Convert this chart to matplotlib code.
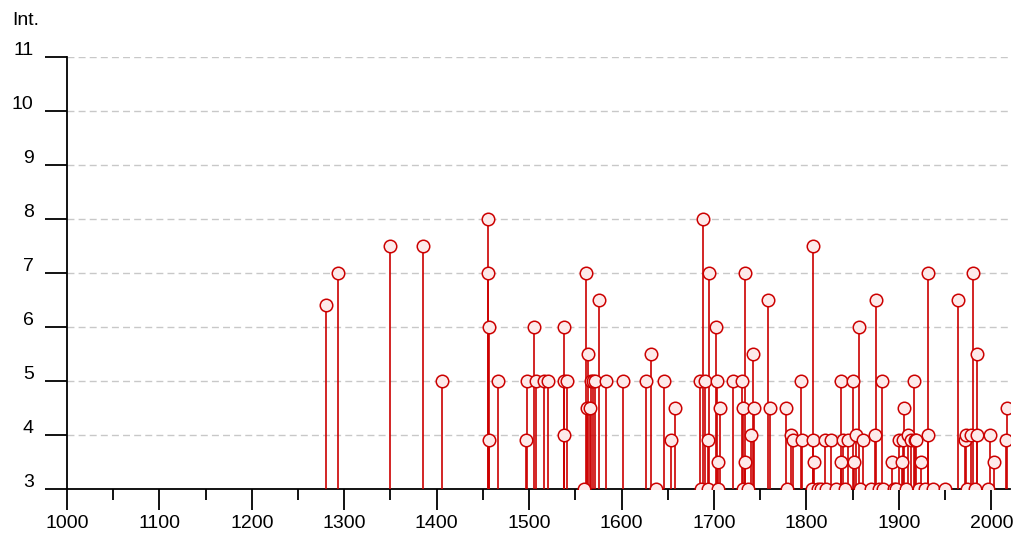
import matplotlib
matplotlib.use("Agg")
import matplotlib.pyplot as plt
import matplotlib.transforms as mtransforms
from matplotlib.ticker import MultipleLocator

# event years and intensities
years = [1280, 1293, 1349, 1385, 1406, 1456, 1456, 1457, 1457, 1466,
         1497, 1498, 1505, 1507, 1516, 1520, 1538, 1538, 1538, 1541,
         1559, 1561, 1563, 1564, 1566, 1567, 1569, 1571, 1576, 1583,
         1601, 1626, 1632, 1637, 1646, 1653, 1658,
         1685, 1686, 1688, 1690, 1693, 1694, 1695, 1702, 1703, 1704,
         1704, 1706, 1720, 1730, 1731, 1731, 1733, 1733, 1737, 1740,
         1742, 1743, 1758, 1761, 1778, 1779, 1783, 1785, 1794, 1795,
         1806, 1807, 1807, 1808, 1812, 1816, 1820, 1821, 1827, 1832,
         1837, 1837, 1840, 1842, 1845, 1850, 1851, 1854, 1857, 1858,
         1861, 1870, 1874, 1875, 1879, 1882, 1883, 1892, 1895, 1897,
         1900, 1903, 1904, 1906, 1908, 1910, 1913, 1916, 1917, 1919,
         1922, 1924, 1928, 1931, 1931, 1937, 1950, 1964, 1971, 1973,
         1974, 1978, 1980, 1982, 1984, 1984, 1996, 1999, 2003, 2016, 2017]
intensity = [6.4, 7.0, 7.5, 7.5, 5.0, 8.0, 7.0, 6.0, 3.9, 5.0,
             3.9, 5.0, 6.0, 5.0, 5.0, 5.0, 6.0, 5.0, 4.0, 5.0,
             3.0, 7.0, 4.5, 5.5, 4.5, 5.0, 5.0, 5.0, 6.5, 5.0,
             5.0, 5.0, 5.5, 3.0, 5.0, 3.9, 4.5,
             5.0, 3.0, 8.0, 5.0, 3.0, 3.9, 7.0, 6.0, 5.0, 3.5,
             3.0, 4.5, 5.0, 5.0, 4.5, 3.0, 7.0, 3.5, 3.0, 4.0,
             5.5, 4.5, 6.5, 4.5, 4.5, 3.0, 4.0, 3.9, 5.0, 3.9,
             3.0, 7.5, 3.9, 3.5, 3.0, 3.0, 3.9, 3.0, 3.9, 3.0,
             5.0, 3.5, 3.9, 3.0, 3.9, 5.0, 3.5, 4.0, 6.0, 3.0,
             3.9, 3.0, 4.0, 6.5, 3.0, 5.0, 3.0, 3.5, 3.0, 3.0,
             3.9, 3.5, 3.9, 4.5, 3.0, 4.0, 3.9, 5.0, 3.9, 3.9,
             3.0, 3.5, 3.0, 7.0, 4.0, 3.0, 3.0, 6.5, 3.9, 4.0,
             3.0, 4.0, 7.0, 3.0, 4.0, 5.5, 3.0, 4.0, 3.5, 3.9, 4.5]

plt.rcParams['font.family'] = ['Liberation Sans', 'DejaVu Sans']

fig = plt.figure(figsize=(10.19, 5.35), dpi=100)
ax = fig.add_axes([0.0657, 0.086, 0.9253, 0.8075])

red = '#cc0000'
ax.vlines(years, 3, intensity, color=red, linewidth=1.2, zorder=3)
ax.plot(years, intensity, 'o', markersize=9, markerfacecolor='#fdeaea',
        markeredgecolor=red, markeredgewidth=1.1, zorder=4)

ax.set_xlim(1000, 2020)
ax.set_ylim(3, 11)

# dashed grid lines
for yv in range(4, 12):
    ax.axhline(yv, color='#c8c8c8', linewidth=1, linestyle=(0, (5, 3)), zorder=1)

for s in ['top', 'right']:
    ax.spines[s].set_visible(False)
ax.spines['left'].set_linewidth(1.3)
ax.spines['bottom'].set_linewidth(1.3)

ax.xaxis.set_major_locator(MultipleLocator(100))
ax.xaxis.set_minor_locator(MultipleLocator(50))
ax.yaxis.set_major_locator(MultipleLocator(1))
ax.tick_params(axis='x', which='major', length=15, width=1.3, labelsize=14, pad=4)
ax.tick_params(axis='x', which='minor', length=8, width=1.3)
ax.tick_params(axis='y', length=16, width=1.3, labelsize=14, pad=8)

# y labels sit a little above their ticks in the reference
shift = mtransforms.ScaledTranslation(0, 6 / 72, fig.dpi_scale_trans)
for lab in ax.get_yticklabels():
    lab.set_transform(lab.get_transform() + shift)

fig.text(0.012, 0.962, 'Int.', fontsize=14, ha='left', va='center')

fig.savefig('out.png', dpi=100, facecolor='white')
